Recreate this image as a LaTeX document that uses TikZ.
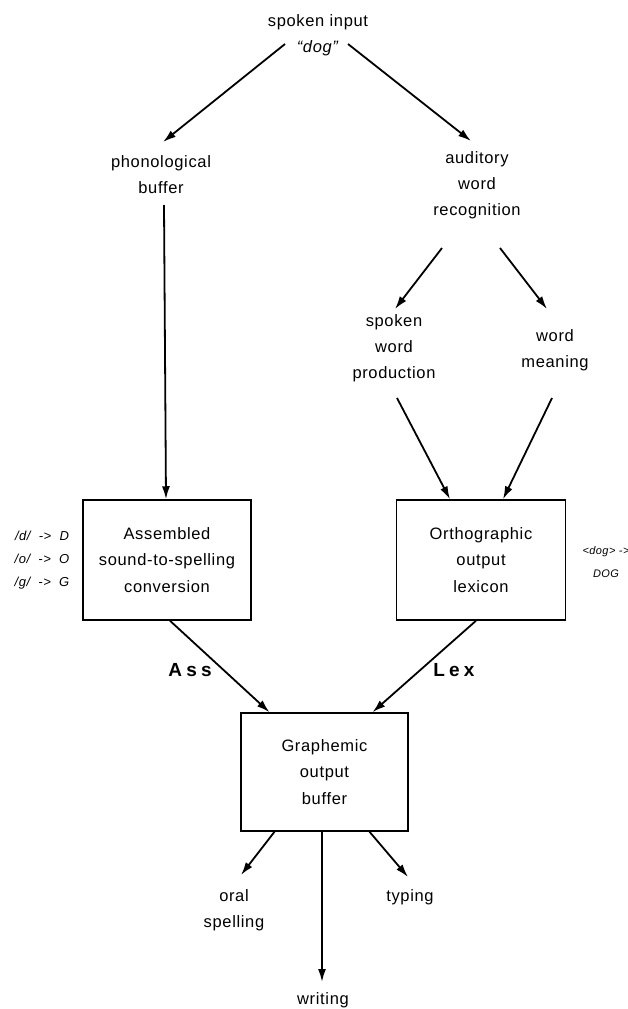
\documentclass[tikz,border=0pt]{standalone}
\usepackage{fontspec}
\setmainfont{Liberation Sans}[LetterSpace=4]
\newfontfamily\widebold{Liberation Sans}[LetterSpace=22]
\usetikzlibrary{arrows.meta}
\begin{document}
\begin{tikzpicture}[x=1pt,y=-1pt,
  lbl/.style={inner sep=0pt, align=center, font=\fontsize{16.5}{26}\selectfont},
  note/.style={inner sep=0pt, align=center, font=\fontsize{13}{23}\selectfont\itshape},
  route/.style={inner sep=0pt, font=\widebold\fontsize{19}{20}\selectfont\bfseries},
  module/.style={draw, line width=1.5pt, minimum width=168pt, minimum height=120pt,
    inner sep=0pt, align=center, font=\fontsize{16.5}{26.5}\selectfont},
  arr/.style={line width=1.8pt, -{Latex[length=13pt,width=8pt]}}]
\useasboundingbox (0,0) rectangle (628,1009);

% input and first-level processes
\node[lbl] (in) at (318,35) {spoken input\\\textit{``dog''}};
\node[lbl] (phon) at (161,175) {phonological\\buffer};
\node[lbl] (aud) at (477,185) {auditory\\word\\recognition};
\node[lbl] (swp) at (394,348) {spoken\\word\\production};
\node[lbl] (wm) at (555,350) {word\\meaning};

% central modules
\node[module] (asm) at (167,560) {Assembled\\sound-to-spelling\\conversion};
\node[module, minimum width=169pt] (orth) at (481,560) {Orthographic\\output\\lexicon};
\node[module, minimum width=167pt, minimum height=118pt] (graph) at (324.5,772) {Graphemic\\output\\buffer};

% side notes and route labels
\node[note] (rules) at (42,560) {/d/\ \ -> \ D\\/o/\ \ -> \ O\\/g/\ \ -> \ G};
\node[note, font=\fontsize{11}{23}\selectfont\itshape] (lexrule) at (606,562) {<dog> ->\\DOG};
\node[route] (ass) at (190,670) {Ass};
\node[route] (lex) at (454,670) {Lex};

% outputs
\node[lbl] (oral) at (234,910) {oral\\spelling};
\node[lbl] (typ) at (410,897) {typing};
\node[lbl] (wri) at (323,1000) {writing};

% connectors
\draw[arr] ([shift={(-33,9)}]in.center) -- ([shift={(2,-33)}]phon.center);
\draw[arr] ([shift={(30,9)}]in.center) -- ([shift={(-6,-44)}]aud.center);
\draw[arr] ([shift={(3,30)}]phon.center) -- ([shift={(-1,0)}]asm.north);
\draw[arr] ([shift={(-35,63)}]aud.center) -- ([shift={(1,-39)}]swp.center);
\draw[arr] ([shift={(23,63)}]aud.center) -- ([shift={(-8,-41)}]wm.center);
\draw[arr] ([shift={(3,50)}]swp.center) -- ([shift={(-31,0)}]orth.north);
\draw[arr] ([shift={(-3,48)}]wm.center) -- ([shift={(22,0)}]orth.north);
\draw[arr] ([shift={(3,0)}]asm.south) -- ([shift={(-55,0)}]graph.north);
\draw[arr] ([shift={(-5,0)}]orth.south) -- ([shift={(48,0)}]graph.north);
\draw[arr] ([shift={(-50,0)}]graph.south) -- ([shift={(7,-35)}]oral.center);
\draw[arr] ([shift={(45,0)}]graph.south) -- ([shift={(-2,-20)}]typ.center);
\draw[arr] ([shift={(-2.5,0)}]graph.south) -- ([shift={(-1,-18)}]wri.center);
\end{tikzpicture}
\end{document}
